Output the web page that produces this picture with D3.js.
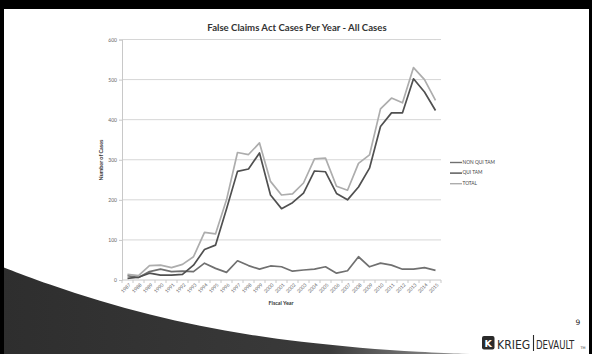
<!DOCTYPE html>
<html>
<head>
<meta charset="utf-8">
<script src="https://cdn.jsdelivr.net/npm/d3@7/dist/d3.min.js"></script>
<style>
  html, body { margin: 0; padding: 0; background: #fff; }
  svg { display: block; }
</style>
</head>
<body>
<svg id="slide" width="592" height="354"></svg>
<script>
// Fiscal years shown on the category axis
const years = d3.range(1987, 2016);

// Cases per fiscal year
const nonQuiTam = [11, 6, 21, 27, 21, 22, 21, 42, 29, 19, 48, 36, 27, 35, 33, 22, 25, 27, 33, 17, 23, 58, 33, 42, 37, 27, 27, 31, 24];
const quiTam    = [4, 7, 17, 12, 12, 14, 37, 76, 87, 177, 271, 277, 317, 212, 178, 193, 217, 272, 270, 216, 200, 232, 279, 383, 417, 417, 502, 469, 423];
const total     = [14, 11, 36, 37, 31, 39, 58, 119, 115, 200, 318, 313, 342, 246, 212, 215, 242, 302, 304, 234, 224, 291, 312, 427, 454, 442, 530, 500, 448];

const seriesNames = ["NON QUI TAM", "QUI TAM", "TOTAL"];
const yTicks = [0, 100, 200, 300, 400, 500, 600];

const chartTitle = "False Claims Act Cases Per Year - All Cases";
const yTitle = "Number of Cases";
const xTitle = "Fiscal Year";

const svg = d3.select("#slide");
const W = 592, H = 354;

// ---- slide frame and decoration ----
const defs = svg.append("defs");
const grad = defs.append("linearGradient").attr("id", "swooshFill")
  .attr("x1", "0").attr("y1", "0").attr("x2", "1").attr("y2", "0");
grad.append("stop").attr("offset", "0%").attr("stop-color", "#2e2e2e");
grad.append("stop").attr("offset", "70%").attr("stop-color", "#3a3a3a");
grad.append("stop").attr("offset", "100%").attr("stop-color", "#9a9a9a");

svg.append("rect").attr("width", W).attr("height", H).attr("fill", "#fff");

const swoosh = d3.line().curve(d3.curveBasis);
const edge = [[0, 266], [50, 285], [100, 301], [150, 315], [200, 326], [250, 335], [300, 342], [360, 348], [420, 352], [470, 354]];
svg.append("path")
  .attr("d", swoosh(edge) + `L0,${H}Z`)
  .attr("fill", "url(#swooshFill)");

svg.append("rect").attr("x", 0).attr("y", 0).attr("width", W).attr("height", 9).attr("fill", "#000");
svg.append("rect").attr("x", 0).attr("y", 0).attr("width", 4).attr("height", H).attr("fill", "#000");
svg.append("rect").attr("x", 589).attr("y", 0).attr("width", 3).attr("height", H).attr("fill", "#000");

// ---- chart ----
const plot = { left: 122, right: 441, top: 39.5, bottom: 280 };

const x = d3.scaleBand().domain(years).range([plot.left, plot.right]).padding(0);
const xc = d => x(d) + x.bandwidth() / 2;
const y = d3.scaleLinear().domain([0, 600]).range([plot.bottom, plot.top]);

svg.append("text")
  .attr("x", 297).attr("y", 31)
  .attr("text-anchor", "middle")
  .attr("font-family", "Lato, 'Open Sans', sans-serif")
  .attr("font-weight", "bold")
  .attr("font-size", 9.6)
  .attr("fill", "#333")
  .text(chartTitle);

// horizontal gridlines
svg.append("g").selectAll("line").data(yTicks.filter(t => t > 0)).join("line")
  .attr("x1", plot.left).attr("x2", plot.right)
  .attr("y1", d => y(d)).attr("y2", d => y(d))
  .attr("stroke", "#d6d6d6").attr("stroke-width", 1);

// y axis
const yAxis = svg.append("g")
  .attr("transform", `translate(${plot.left},0)`)
  .call(d3.axisLeft(y).tickValues(yTicks).tickSize(3).tickPadding(2));
yAxis.select(".domain").attr("stroke", "#c8c8c8");
yAxis.selectAll(".tick line").attr("stroke", "#c8c8c8");
yAxis.selectAll(".tick text")
  .attr("font-family", "Lato, sans-serif").attr("font-size", 5).attr("fill", "#666");

// x axis baseline with category separators
svg.append("line")
  .attr("x1", plot.left).attr("x2", plot.right)
  .attr("y1", plot.bottom).attr("y2", plot.bottom)
  .attr("stroke", "#c8c8c8");
svg.append("g").selectAll("line").data(years.concat([null])).join("line")
  .attr("x1", d => d === null ? plot.right : x(d))
  .attr("x2", d => d === null ? plot.right : x(d))
  .attr("y1", plot.bottom).attr("y2", plot.bottom + 3)
  .attr("stroke", "#c8c8c8");

svg.append("g").selectAll("text").data(years).join("text")
  .attr("transform", d => `translate(${xc(d) + 2.5},${plot.bottom + 4.5}) rotate(-45)`)
  .attr("text-anchor", "end")
  .attr("dominant-baseline", "middle")
  .attr("font-family", "Lato, sans-serif")
  .attr("font-size", 4.8)
  .attr("fill", "#666")
  .text(d => d);

svg.append("text")
  .attr("transform", `translate(103,160) rotate(-90)`)
  .attr("text-anchor", "middle")
  .attr("font-family", "Lato, sans-serif")
  .attr("font-weight", "bold")
  .attr("font-size", 5.4)
  .attr("fill", "#333")
  .text(yTitle);

svg.append("text")
  .attr("x", 281).attr("y", 305)
  .attr("text-anchor", "middle")
  .attr("font-family", "Lato, sans-serif")
  .attr("font-weight", "bold")
  .attr("font-size", 5.4)
  .attr("fill", "#333")
  .text(xTitle);

// series lines
const series = [
  { name: seriesNames[0], values: nonQuiTam, color: "#707070" },
  { name: seriesNames[1], values: quiTam, color: "#505050" },
  { name: seriesNames[2], values: total, color: "#adadad" }
];
const line = d3.line().x((v, i) => xc(years[i])).y(v => y(v));

svg.append("g").selectAll("path").data(series).join("path")
  .attr("d", s => line(s.values))
  .attr("fill", "none")
  .attr("stroke", s => s.color)
  .attr("stroke-width", 1.7)
  .attr("stroke-linejoin", "round");

// legend
const lg = svg.append("g").attr("transform", "translate(450,162.5)");
const item = lg.selectAll("g").data(series).join("g")
  .attr("transform", (d, i) => `translate(0,${i * 10.6})`);
item.append("line").attr("x1", 0).attr("x2", 12).attr("y1", 0).attr("y2", 0)
  .attr("stroke", d => d.color).attr("stroke-width", 1.4);
item.append("text").attr("x", 12.5).attr("y", 0)
  .attr("dominant-baseline", "middle")
  .attr("font-family", "Lato, sans-serif").attr("font-size", 4.8).attr("fill", "#444")
  .text(d => d.name);

// ---- footer: page number and firm logo ----
svg.append("text").attr("x", 578).attr("y", 325)
  .attr("text-anchor", "middle")
  .attr("font-family", "'DejaVu Sans', sans-serif").attr("font-size", 7.5).attr("fill", "#222")
  .text("9");

const logo = svg.append("g");
logo.append("rect").attr("x", 482).attr("y", 336).attr("width", 12.5).attr("height", 13.5).attr("rx", 2).attr("fill", "#2a2a2a");
logo.append("text").attr("x", 488.2).attr("y", 346.5).attr("text-anchor", "middle")
  .attr("font-family", "'DejaVu Sans', sans-serif").attr("font-weight", "bold")
  .attr("font-size", 9.5).attr("fill", "#fff").text("K");
// wordmark drawn with a horizontal squeeze instead of textLength
logo.append("text").attr("transform", "translate(497,348.5) scale(0.84,1)")
  .attr("font-family", "'DejaVu Sans', sans-serif").attr("font-size", 13)
  .attr("fill", "#2a2a2a").text("KRIEG");
logo.append("line").attr("x1", 533.5).attr("x2", 533.5).attr("y1", 335).attr("y2", 351)
  .attr("stroke", "#2a2a2a").attr("stroke-width", 1.1);
logo.append("text").attr("transform", "translate(536,348.5) scale(0.66,1)")
  .attr("font-family", "'DejaVu Sans', sans-serif").attr("font-size", 13)
  .attr("fill", "#2a2a2a").text("DEVAULT");
logo.append("text").attr("x", 580.5).attr("y", 348.5)
  .attr("font-family", "'DejaVu Sans', sans-serif").attr("font-size", 3.4)
  .attr("fill", "#2a2a2a").text("TM");
</script>
</body>
</html>
